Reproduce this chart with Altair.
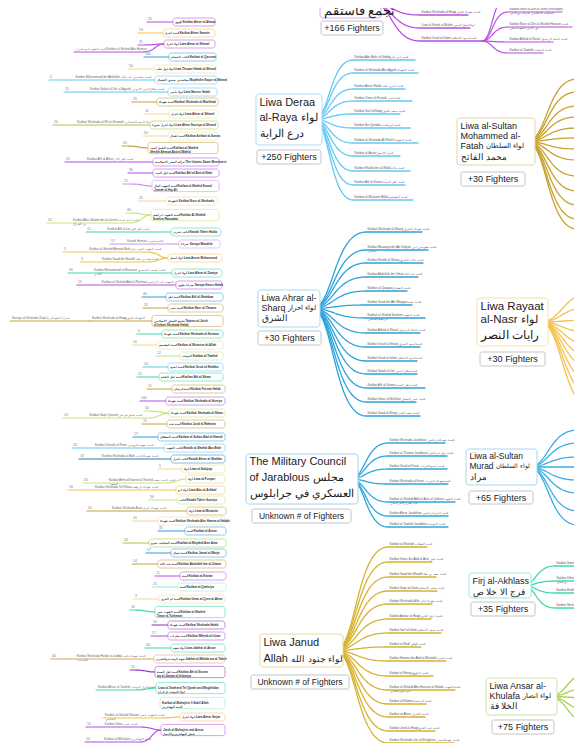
import altair as alt
import pandas as pd

# ----------------------------- data -----------------------------
hub_titles = [
    ["تجمع فاستقم"],
    ["Liwa Deraa", "al-Raya لواء", "درع الراية"],
    ["Liwa al-Sultan", "Mohammed al-", "Fatah لواء السلطان", "محمد الفاتح"],
    ["Liwa Ahrar al-", "Sharq لواء احرار", "الشرق"],
    ["Liwa Rayaat", "al-Nasr لواء", "رايات النصر"],
    ["The Military Council", "of Jarablous مجلس", "العسكري في جرابلوس"],
    ["Liwa al-Sultan", "Murad لواء السلطان", "مراد"],
    ["Liwa Janud", "Allah لواء جنود الله"],
    ["Firj al-Akhlass", "فرج الا خلا ص"],
    ["Liwa Ansar al-", "Khulafa لواء انصار", "الخلا فة"],
]
hub_fighters = ["+166 Fighters", "+250 Fighters", "+30 Fighters", "+30 Fighters", "+30 Fighters",
                "Unknown # of Fighters", "+65 Fighters", "Unknown # of Fighters", "+35 Fighters", "+75 Fighters"]

fastaqim_leaves = [
    "Katibat Ahrar al-Sham  كتيبة احرار الشام",
    "Katibat Shuhada al-Haqq  كتيبة شهداء الحق",
    "Liwa al-Fatah al-Mubin  لواء الفتح المبين",
    "Katibat Usud al-Islam  كتيبة اسود الاسلام",
]
fastaqim_sub_leaves = [
    "Katibat al-Bara  كتيبة البراء",
    "Katibat Nour al-Din al-Zenki (Fastaqim)\nالمكتب الاعلامي لحركة نور الدين",
    "Katibat Nour al-Din al-Shahid Hassan  كتيبة\nنور الدين الشهيد حسن",
    "Katibat Ahfad al-Rasul  كتيبة احفاد الرسول",
    "Katibat al-Tawhid  كتيبة التوحيد",
]
deraa_leaves = [
    "Katibat Abu Bakr al-Siddiq  كتيبة ابو بكر",
    "Katibat al-Shuhada Abu Ayyub  كتيبة الشهداء",
    "Katibat Ahrar Halab  كتيبة احرار حلب",
    "Katibat Omar al-Farouk  كتيبة عمر",
    "Katibat Saif al-Haqq  كتيبة سيف الحق",
    "Katibat Ibn Qutaiba  كتيبة ابن قتيبة",
    "Katibat al-Shuhada Ali Khalil  كتيبة الشهداء",
    "Katibat al-Ansar  كتيبة الانصار",
    "Katibat Khalid ibn al-Walid  كتيبة خالد",
    "Katibat Ahl al-Sunna  كتيبة اهل السنة",
    "Katibat al-Mutasim Billah  كتيبة المعتصم",
]
ahrar_leaves = [
    "Katibat Shuhada al-Sharq  كتيبة شهداء الشرق",
    "Katibat Muawiya ibn Abi Sufyan  كتيبة معاوية بن ابي\nسفيان",
    "Katibat Khalid al-Sharq  كتيبة خالد الشرق",
    "Katibat Abdullah ibn Omar  كتيبة عبد الله",
    "Katibat al-Qaaqaa  كتيبة القعقاع",
    "Katibat Saad ibn Abi Waqqas  كتيبة سعد",
    "Katibat al-Shahid Ibrahim  كتيبة الشهيد\nابراهيم الحسين",
    "Katibat Ahfad al-Rasul  كتيبة احفاد الرسول",
    "Katibat Usud al-Sharq  كتيبة اسود الشرق",
    "Katibat Usud al-Islam  كتيبة اسود الاسلام",
    "Katibat Salah al-Din  كتيبة صلاح الدين",
    "Katibat Ahl al-Sunna  كتيبة اهل السنة",
    "Katibat Umar al-Mukhtar  كتيبة عمر المختار",
    "Katibat Saad al-Khayr  كتيبة سعد الخير",
]
military_leaves = [
    "Katibat Shuhada Jarablous  كتيبة شهداء جرابلس",
    "Katibat al-Thuwar Jarablous  كتيبة ثوار جرابلس",
    "Katibat Usud al-Furat  كتيبة اسود الفرات",
    "Katibat Shuhada al-Furat  كتيبة شهداء الفرات",
    "Katibat al-Shahid Abd al-Aziz al-Qirbasi  كتيبة الشهيد\nعبد العزيز القرباصي",
    "Katibat Ahrar Jarablous  كتيبة احرار جرابلس",
    "Katibat al-Tawhid Jarablous  كتيبة التوحيد",
]
janud_leaves = [
    "Katibat al-Khattab  كتيبة الخطاب",
    "Katibat Umar ibn Abd al-Aziz  كتيبة عمر",
    "Katibat Saad ibn Muadh  كتيبة سعد بن معاذ",
    "Katibat Saqr al-Islam  كتيبة صقر الاسلام",
    "Katibat Shuhada Idlib  كتيبة شهداء ادلب",
    "Katibat Anwar al-Haqq  كتيبة انوار الحق",
    "Katibat Saif al-Islam  كتيبة سيف الاسلام",
    "Katibat al-Hadi  كتيبة الهادي",
    "Katibat Hamza ibn Abd al-Muttalib  كتيبة حمزة",
    "Katibat al-Faruq  كتيبة الفاروق",
    "Katibat al-Shahid Abu Hassan al-Halabi  كتيبة الشهيد\nابو حسن الحلبي",
    "Katibat al-Rahma  كتيبة الرحمة",
    "Katibat al-Ahrar  كتيبة الاحرار",
    "Katibat Jund al-Haqq  كتيبة جند الحق",
    "Katibat Shuhada Jisr al-Shughour  كتيبة شهداء جسر",
]
firj_leaves = [
    "Katibat Salman al-Farisi  كتيبة سلمان الفارسي",
    "Katibat Uthman ibn Affan  كتيبة عثمان\nبن عفان",
    "Katibat Hudhaifa  كتيبة حذيفة",
    "Katibat Shuhada al-Akhlass  كتيبة شهداء الاخلاص",
]

left_names = [
    "الهوى  Katibat Ahrar al-Ahwaz",
    "كتيبة احرار  Katibat Ahrar Sarmin",
    "لواء احرار  Liwa Ahrar al-Shimal",
    "كتائب القسام  Katibat al-Qassam",
    "لواء ثوار حلب  Liwa Thuwar Halab al-Shimal",
    "مجاهدين صقور الشمال  Mujahidin Saqur al-Shimal",
    "لواء ناصر  Liwa Nasser Salah",
    "كتيبة شهداء  Katibat Shuhada al-Mashhad",
    "لواء احرار  Liwa Ahrar al-Shimal",
    "لواء احرار سوريا  Liwa Ahrar Souriya al-Shimal",
    "كتيبة اشبال  Katibat Ashbal al-Sunna",
    "كتيبة الشيخ احمد  Katibat al-Shahid\nSheikh Ahmad Abd al-Wahid",
    "حركة الفجر الاسلامية  The Islamic Dawn Movement",
    "كتيبة اهل البيت  Katibat Ahl al-Bait al-Nabi",
    "كتيبة الشهيد كمال  Katibat al-Shahid Kamal\nJumah al-Haj Ali",
    "الشهداء  Katibat Nour al-Shuhada",
    "كتيبة الشهيد ابراهيم  Katibat Al-Shahid\nIbrahim Ramadan",
    "كتائب تحرير  Kataib Tahrir Halab",
    "سرايا  Saraya Mandela",
    "لواء انصار  Liwa Ansar Muhammad",
    "لواء احرار  Liwa Ahrar al-Zawiya",
    "سرايا هارون  Saraya Harun Halab",
    "كتيبة اهل  Katibat Ahl al-Shahbaa",
    "كتيبة نصر  Katibat Nasr al-Thawra",
    "تجمع الجيش الاسلامي  Tajamu al-Jaish\nal-Islami Shuhada Halab",
    "كتيبة شهداء  Katibat Shuhada al-Karama",
    "كتيبة المعتصم  Katibat al-Mutasim bi-Allah",
    "التوحيد  Katibat al-Tawhid",
    "كتيبة اسود  Katibat Usud al-Shahba",
    "كتيبة اهل الشام  Katibat Ahl al-Sham",
    "كتيبة فرسان  Katibat Fursan Halab",
    "كتيبة شهداء  Katibat Shuhada al-Hurriya",
    "كتيبة شهداء  Katibat Shuhada al-Sham",
    "كتيبة جند  Katibat Jund al-Rahman",
    "كتيبة السلطان  Katibat al-Sultan Abd al-Hamid",
    "كتائب الشهيد  Kataib al-Shahid Abu Bakr",
    "كتائب احرار  Kataib Ahrar al-Shahba",
    "لواء  Liwa al-Salajiqa",
    "لواء  Liwa al-Forqan",
    "لواء ابو  Liwa Abu al-Ashbal",
    "كتائب  Kataib Tahrir Souriya",
    "لواء  Liwa al-Mutasim",
    "كتيبة شهداء  Katibat Shuhada Abu Hamza al-Halabi",
    "كتيبة  Katibat al-Ansar",
    "كتيبة المجاهد عمرو  Katibat al-Mujahid Amr Attar",
    "كتيبة جمال  Katibat Jamal al-Marja",
    "كتيبة عبد الله  Katibat Abdullah ibn al-Zubair",
    "كتيبة  Katibat al-Kattan",
    "كتيبة  Katibat al-Qadisiya",
    "كتيبة ام القرى  Katibat Umm al-Qura al-Ahrar",
    "كتيبة الشهيد عمر  Katibat al-Shahid\nOmar al-Turkmani",
    "كتيبة شهداء  Katibat Shuhada Halab",
    "كتيبة محراب  Katibat Mihrab al-Islam",
    "لواء جبهة  Liwa Jabhat al-Ansar",
    "جبهة الوحدة والتحرير  Jabhat al-Wahda wa al-Tahrir",
    "كتيبة اهل السنة  Katibat Ahl al-Sunna\nwa al-Jamaa al-Islamiya",
    "Liwa al-Tawheed Tel Qarah and Megdeldan\nلواء التوحيد تل قراح",
    "Katibat al-Muhajirin fi Sabil Allah\nكتيبة المهاجرين",
    "لواء احرار  Liwa Ahrar Sinjar",
    "Jaish al-Muhajirin wal-Ansar\nجيش المهاجرين والانصار",
]

left_branch_counts = [
    "25", "13", "31", "", "100", "50", "5", "15", "25", "11", "20", "50", "25", "15", "30", "15",
    "25", "40", "15", "11", "17", "5", "3", "30", "15", "40", "25", "", "", "5", "10", "12",
    "14", "12", "11", "100", "50", "13", "15", "17", "20", "14", "5", "20", "16", "50", "50",
    "20", "35", "20", "17", "14", "11", "25", "3", "10", "50", "17", "40", "40", "15", "", "",
    "15", "10",
]
left_branch_labels = [
    "", "", "", "كتيبة الشهيد ابو حمزة  Katibat al-Shahid Abu Hamza", "", "",
    "Katibat Muhammad ibn Abdullah  كتيبة محمد بن عبد الله",
    "Katibat Salah al-Din al-Ayyubi  كتيبة صلاح الدين الايوبي", "", "",
    "Katibat Shuhada al-Rif al-Shamali  كتيبة شهداء الريف الشمالي", "", "",
    "Katibat Ahl al-Athar  كتيبة اهل الاثر", "", "", "", "",
    "Katibat Abu Ubaida ibn al-Jarrah  كتيبة ابو عبيدة\nبن الجراح",
    "Katibat Ahl al-Izz  كتيبة اهل العز", "Kataib Hamza  كتائب حمزة",
    "Katibat al-Shahid Ahmad Bakr  كتيبة الشهيد احمد بكر",
    "Katibat Saad ibn Muadh  كتيبة سعد بن معاذ",
    "Katibat Muhammad al-Mansour  كتيبة محمد المنصور\nالثاني",
    "Katibat al-Shahid Abd al-Rahman  كتيبة الشهيد عبد الرحمن", "", "",
    "Katibat Shuhada al-Haqq  الشهداء الحق",
    "Saraya al-Shuhada Ziad  سرايا الشهداء زياد",
    "", "", "", "", "", "", "", "", "Katibat Saqr Quraish  كتيبة صقر قريش", "", "",
    "Katibat Suhaib al-Rumi  كتيبة صهيب الرومي",
    "Katibat Shuhada al-Bab  كتيبة شهداء الباب", "",
    "Katibat Ahmad Saeed al-Shahid  كتيبة احمد سعيد\nالشهيد",
    "Katibat Shuhada Tal Rifaat  كتيبة شهداء تل رفعت", "",
    "Katibat Shuhada Azaz  كتيبة شهداء اعزاز",
    "", "", "", "", "", "", "", "", "", "", "", "",
    "Katibat Shuhada Halab al-Jadida  كتيبة شهداء حلب\nالجديدة", "",
    "Katibat Ahrar al-Tawhid  كتيبة احرار التوحيد",
    "Katibat al-Shahid Nasser  كتيبة الشهيد ناصر\nالشامي",
    "Katibat Umar  كتيبة عمر", "Katibat al-Muhajirin  كتيبة المهاجرين",
]

# ----------------------------- layout -----------------------------
hub_box = [(320, -12, 381, 18), (256, 94, 322, 145), (457, 118, 535, 165), (258, 290, 320, 327),
           (477, 298, 548, 346), (246, 454, 358, 504), (466, 449, 537, 485), (260, 634, 343, 667),
           (469, 573, 531, 598), (486, 678, 557, 715)]
hub_count_box = [(321, 21, 383, 35), (257, 150, 321, 164), (461, 172, 525, 186), (258, 331, 321, 345),
                 (480, 352, 545, 366), (252, 509, 351, 523), (469, 491, 533, 504), (251, 675, 349, 689),
                 (471, 602, 535, 616), (492, 720, 554, 734)]
hub_line_y = [[10.5], [103, 118, 134], [126, 136, 146, 157], [298, 308, 318], [307, 320, 336],
              [462, 478, 494], [456, 466, 477], [643, 659], [581, 592], [686, 696, 706]]
hub_font = [13, 11, 9, 9, 11.5, 11, 8.5, 11, 9, 9]
# font size of the Arabic run in the line that mixes Latin and Arabic
hub_mixed_arabic_font = [None, 10.5, 7.0, 7.0, 11, 11, 6.4, 8.6, None, 6.8]
hub_count_font = [9, 9, 9, 9, 9, 8.5, 9, 8.5, 9, 9]
hub_color = ["#b94de8", "#63c9f5", "#c6a22e", "#2ba3dc", "#f4c14f", "#2ea6de", "#38aee6", "#d7b22f",
             "#3edab4", "#a7d04a"]
hub_border = ["#dcaaf3", "#a9def7", "#e3d6a6", "#a6d8f0", "#f8dfa8", "#9fd3ef", "#a6d8f0", "#e8d9a0",
              "#9ee9d5", "#cfe6a0"]
hub_leaf_y = [
    [-1, 15, 28, 41],
    [60, 73, 89, 101, 114, 128, 143, 156, 171, 185, 200],
    [79, 92, 106, 117, 128, 138, 149, 160, 176, 191, 205, 219, 229],
    [232, 250, 263, 277, 291, 305, 318, 333, 347, 361, 374, 388, 402, 416],
    [292, 306, 320, 333, 346, 358, 370, 384, 398, 412],
    [443, 456, 469, 484, 502, 516, 527],
    [430, 443, 457, 467, 480, 493, 511, 525],
    [547, 562, 577, 591, 604, 619, 633, 647, 661, 676, 690, 704, 717, 731, 743],
    [566, 581, 593, 608],
    [670, 687, 698, 712, 726],
]
hub_leaf_x = [420, 353, 577, 366, 596, 388, 578, 388, 555, 596]
hub_leaf_end = [
    [470, 468, 470, 482],
    [415, 418, 405, 412, 400, 410, 418, 400, 410, 405, 413],
    None,
    [422, 428, 423, 418, 407, 412, 425, 420, 420, 417, 417, 425, 416, 420],
    None,
    [445, 447, 447, 448, 455, 448, 448],
    None,
    [427, 432, 436, 437, 432, 431, 441, 421, 446, 433, 455, 426, 425, 435, 454],
    [640, 640, 640, 640],
    None,
]
hub_leaf_names = [fastaqim_leaves, deraa_leaves, None, ahrar_leaves, None, military_leaves, None,
                  janud_leaves, firj_leaves, None]
sub_origin = (482, 41)
sub_leaf_y = [-4, 12, 27, 42, 53]
sub_leaf_x = 508
sub_leaf_end = [560, 562, 572, 553, 543]

left_box = [
    (22, 173, 215, 1, "P"), (33, 163, 215, 1, "Y"), (44, 164, 215, 1, "P"), (57, 169, 216, 1, "B"),
    (69, 154, 216, 1, "LY"), (80, 155, 217, 1, "LB"), (92, 168, 217, 1, "LB"), (102, 157, 218, 1, "DG"),
    (114, 169, 218, 1, "LY"), (125, 150, 218, 1, "G"), (136, 168, 218, 1, "LY"), (148, 148, 218, 2, "DG"),
    (162, 153, 219, 1, "P"), (173, 153, 219, 1, "P"), (186, 152, 219, 2, "LP"), (201, 166, 218, 1, "LY"),
    (215, 151, 219, 2, "LG"), (232, 171, 221, 1, "T"), (244, 179, 220, 1, "LP"), (258, 168, 222, 1, "Y"),
    (273, 172, 222, 1, "T"), (285, 176, 222, 1, "P"), (297, 166, 223, 1, "B"), (308, 168, 223, 1, "DG"),
    (321, 152, 223, 2, "DG"), (334, 162, 223, 1, "T"), (345, 157, 223, 1, "LY"), (356, 180, 223, 1, "LG"),
    (367, 168, 223, 1, "LB"), (377, 159, 223, 1, "T"), (389, 172, 225, 1, "DG"), (401, 166, 225, 1, "P"),
    (413, 169, 225, 1, "LG"), (424, 167, 225, 1, "DG"), (437, 158, 225, 1, "B"), (448, 164, 225, 1, "LB"),
    (459, 171, 225, 1, "DB"), (469, 182, 225, 1, "LY"), (479, 186, 225, 1, "LG"), (490, 176, 225, 1, "Y"),
    (500, 177, 225, 1, "LG"), (511, 187, 226, 1, "DG"), (521, 158, 226, 1, "LY"), (531, 185, 226, 1, "B"),
    (543, 149, 226, 1, "G"), (553, 171, 226, 1, "B"), (564, 158, 226, 1, "DG"), (576, 180, 226, 1, "P"),
    (587, 178, 226, 1, "LT"), (599, 159, 225, 1, "LY"), (612, 155, 225, 2, "T"), (625, 168, 225, 1, "DP"),
    (636, 168, 225, 1, "P"), (648, 171, 225, 1, "T"), (659, 154, 225, 1, "TAN"), (672, 155, 225, 2, "DP"),
    (688, 156, 225, 2, "T"), (703, 160, 225, 2, "LT"), (717, 180, 225, 1, "Y"), (730, 161, 225, 2, "P"),
]
# (node number, start x or None, end y, end x)
left_branch = [
    (1, None, 22, 147), (2, None, 33, 138), (3, None, 45, 138), (3, None, 52, 74), (4, None, 57, 144),
    (5, None, 69, 128), (6, None, 80, 49), (7, None, 92, 64), (8, None, 102, 132), (9, None, 114, 144),
    (10, None, 125, 53), (11, None, 136, 143), (12, None, 146, 122), (13, None, 162, 65),
    (14, None, 173, 128), (15, None, 184, 123), (16, None, 201, 138), (17, None, 213, 126),
    (17, None, 223, 47), (18, None, 232, 86), (19, None, 244, 110), (20, None, 252, 63),
    (20, None, 262, 80), (21, None, 273, 68), (22, None, 285, 77), (23, None, 297, 142),
    (24, None, 308, 143), (25, None, 321, 90), (25, 90, 321, 10), (26, None, 334, 137),
    (27, None, 345, 132), (28, None, 356, 156), (29, None, 367, 143), (30, None, 377, 137),
    (31, None, 389, 147), (32, None, 401, 140), (33, None, 411, 144), (33, None, 418, 63),
    (34, None, 424, 142), (35, None, 437, 133), (36, None, 448, 72), (37, None, 459, 79),
    (38, None, 469, 158), (39, None, 483, 83), (40, None, 490, 68), (41, None, 500, 149),
    (42, None, 511, 87), (43, None, 521, 132), (44, None, 531, 158), (45, None, 543, 123),
    (46, None, 553, 146), (47, None, 564, 132), (48, None, 576, 155), (49, None, 587, 152),
    (50, None, 599, 134), (51, None, 610, 130), (52, None, 625, 152), (53, None, 636, 151),
    (54, None, 648, 145), (55, None, 659, 51), (56, None, 670, 130), (57, None, 690, 96),
    (59, None, 718, 103), (60, None, 727, 86), (60, None, 742, 85),
]
palette = {"P": "#b94de8", "LP": "#cf8ef2", "DP": "#8b35c0", "Y": "#f3c24a", "LY": "#f2d88c",
           "LB": "#5ec7f3", "B": "#2d9fd9", "DB": "#2b7fb6", "DG": "#c4a03a", "G": "#a3cc45",
           "LG": "#c8e47c", "T": "#3dd5ac", "LT": "#8fe9d1", "TAN": "#d3a65a"}

# approximate Arial/Liberation Sans advance widths (em) for placing mixed-script title lines
_W = {c: .556 for c in "abdeghnopqu0123456789#"}
_W.update({"c": .5, "f": .278, "i": .222, "j": .222, "k": .5, "l": .222, "m": .833, "r": .333,
           "s": .5, "t": .278, "v": .5, "w": .722, "x": .5, "y": .5, "z": .5, " ": .278, "-": .333,
           "A": .667, "B": .667, "C": .722, "D": .722, "E": .667, "F": .611, "G": .778, "H": .722,
           "I": .278, "J": .5, "K": .667, "L": .556, "M": .833, "N": .722, "O": .778, "P": .667,
           "R": .722, "S": .667, "T": .611, "U": .722, "W": .944})


def latin_width(s, fs):
    return sum(_W.get(ch, .556) for ch in s) * fs


# ----------------------------- geometry -----------------------------
def curve(sx, sy, ex, ey, k=0.4, n=26):
    dx = ex - sx
    c1 = (sx + k * dx, sy)
    c2 = (sx + k * dx, ey)
    pts = []
    for i in range(n + 1):
        t = i / n
        a, b, c, d = (1 - t) ** 3, 3 * t * (1 - t) ** 2, 3 * t * t * (1 - t), t ** 3
        pts.append((a * sx + b * c1[0] + c * c2[0] + d * ex, a * sy + b * c1[1] + c * c2[1] + d * ey))
    return pts


def first_arabic(s):
    for i, ch in enumerate(s):
        if "\u0600" <= ch <= "\u06ff":
            return i
    return -1


edge_rows, leaf_rows, box_rows, count_rows, title_rows = [], [], [], [], []
lbox_rows, ltext_rows, num_rows, blabel_rows = [], [], [], []
eid = 0


def add_edge(pts, color, w):
    global eid
    for o, (x, y) in enumerate(pts):
        edge_rows.append({"eid": eid, "o": o, "x": x, "y": y, "c": color, "w": w})
    eid += 1


for h in range(len(hub_titles)):
    x0, y0, x1, y1 = hub_box[h]
    sx, sy = x1 - 8, (y0 + y1) / 2
    ends = hub_leaf_end[h]
    names = hub_leaf_names[h]
    for i, ly in enumerate(hub_leaf_y[h]):
        lx = hub_leaf_x[h]
        le = ends[i] if ends else lx + 60
        add_edge(curve(sx, sy, lx, ly) + [(le, ly)], hub_color[h], 1.3)
        if names:
            leaf_rows.append({"x": lx + 1.5, "y": ly - 0.9, "t": names[i]})
    box_rows.append({"x": x0, "x2": x1, "y": y0, "y2": y1, "s": hub_border[h]})
    for j, line in enumerate(hub_titles[h]):
        fs = hub_font[h]
        ly = hub_line_y[h][j]
        k = first_arabic(line)
        if k > 0:
            lat, ara = line[:k].rstrip(), line[k:]
            title_rows.append({"x": x0 + 3.5, "y": ly, "t": lat, "fs": fs})
            ax = x0 + 3.5 + latin_width(lat, fs) + 0.3 * fs
            title_rows.append({"x": ax, "y": ly + 0.3, "t": ara, "fs": hub_mixed_arabic_font[h]})
        else:
            title_rows.append({"x": x0 + 3.5, "y": ly, "t": line, "fs": fs})
    cx0, cy0, cx1, cy1 = hub_count_box[h]
    count_rows.append({"x": cx0, "x2": cx1, "y": cy0, "y2": cy1, "cx": (cx0 + cx1) / 2,
                       "cy": (cy0 + cy1) / 2 + 0.3, "t": hub_fighters[h], "fs": hub_count_font[h]})

for i, ly in enumerate(sub_leaf_y):
    add_edge(curve(sub_origin[0], sub_origin[1], sub_leaf_x, ly) + [(sub_leaf_end[i], ly)], hub_color[0], 1.2)
    leaf_rows.append({"x": sub_leaf_x + 1.5, "y": ly - 0.9, "t": fastaqim_sub_leaves[i]})

for b, (node, bsx, ye, xe) in enumerate(left_branch):
    ny, nx0, nx1, nl, ck = left_box[node - 1]
    sx = nx0 if bsx is None else bsx
    if abs(ye - ny) > 0.5:
        pts = curve(sx, ny, sx - 22, ye) + [(xe, ye)]
    else:
        pts = [(sx, ny), (xe, ye)]
    add_edge(pts, palette[ck], 1.2)
    num = left_branch_counts[b]
    lab = left_branch_labels[b]
    if num:
        num_rows.append({"x": xe + 1, "y": ye - 0.8, "t": num})
    if lab:
        lx = xe + (0.25 * (nx0 - xe) if num else 2)
        blabel_rows.append({"x": lx, "y": ye - 0.8, "t": lab})

for i, (ny, nx0, nx1, nl, ck) in enumerate(left_box):
    hh = 4 if nl == 1 else 5.6
    lbox_rows.append({"x": nx0, "x2": nx1, "y": ny - hh, "y2": ny + hh, "s": palette[ck]})
    ltext_rows.append({"x": nx0 + 2, "y": ny + 0.2, "t": left_names[i]})

# ----------------------------- chart -----------------------------
xs = alt.Scale(domain=[8, 574], nice=False, zero=False)
ys = alt.Scale(domain=[8, 743], nice=False, zero=False, reverse=True)


def X(f="x"):
    return alt.X(f"{f}:Q", scale=xs, axis=None)


def Y(f="y"):
    return alt.Y(f"{f}:Q", scale=ys, axis=None)


FONT = "Liberation Sans"

edges = alt.Chart(pd.DataFrame(edge_rows)).mark_line(strokeCap="round", strokeJoin="round").encode(
    x=X(), y=Y(), detail="eid:N", order="o:Q",
    color=alt.Color("c:N", scale=None), strokeWidth=alt.StrokeWidth("w:Q", scale=None))

leaf_text = alt.Chart(pd.DataFrame(leaf_rows)).mark_text(
    align="left", baseline="bottom", fontSize=3.1, font=FONT, color="#555", lineBreak="\n", lineHeight=3.8
).encode(x=X(), y=Y(), text="t:N")

hub_boxes = alt.Chart(pd.DataFrame(box_rows)).mark_rect(
    fill="white", strokeWidth=1, cornerRadius=3).encode(
    x=X(), x2="x2:Q", y=Y(), y2="y2:Q", stroke=alt.Stroke("s:N", scale=None))

hub_text = alt.Chart(pd.DataFrame(title_rows)).mark_text(
    align="left", baseline="middle", font=FONT, color="#1a1a1a").encode(
    x=X(), y=Y(), text="t:N", size=alt.Size("fs:Q", scale=None))

count_boxes = alt.Chart(pd.DataFrame(count_rows)).mark_rect(
    fill="white", stroke="#c4c4c4", strokeWidth=1, cornerRadius=2).encode(
    x=X(), x2="x2:Q", y=Y(), y2="y2:Q")

count_text = alt.Chart(pd.DataFrame(count_rows)).mark_text(
    align="center", baseline="middle", font=FONT, color="#222").encode(
    x=X("cx"), y=Y("cy"), text="t:N", size=alt.Size("fs:Q", scale=None))

left_boxes = alt.Chart(pd.DataFrame(lbox_rows)).mark_rect(
    fill="white", strokeWidth=0.9, strokeOpacity=0.6, cornerRadius=2.5).encode(
    x=X(), x2="x2:Q", y=Y(), y2="y2:Q", stroke=alt.Stroke("s:N", scale=None))

left_text = alt.Chart(pd.DataFrame(ltext_rows)).mark_text(
    align="left", baseline="middle", fontSize=3.0, font=FONT, fontWeight="bold", color="#333",
    lineBreak="\n", lineHeight=3.8).encode(x=X(), y=Y(), text="t:N")

num_text = alt.Chart(pd.DataFrame(num_rows)).mark_text(
    align="left", baseline="bottom", fontSize=3.4, font=FONT, color="#777").encode(
    x=X(), y=Y(), text="t:N")

branch_text = alt.Chart(pd.DataFrame(blabel_rows)).mark_text(
    align="left", baseline="bottom", fontSize=3.1, font=FONT, color="#666", lineBreak="\n",
    lineHeight=3.8).encode(x=X(), y=Y(), text="t:N")

chart = alt.layer(
    edges, leaf_text, branch_text, num_text, left_boxes, left_text,
    hub_boxes, hub_text, count_boxes, count_text
).properties(width=566, height=735, autosize=alt.AutoSizeParams(type="none"), padding=0,
             background="white").configure_view(stroke=None)

chart.save("out.html", embed_options={"renderer": "svg", "actions": False})
